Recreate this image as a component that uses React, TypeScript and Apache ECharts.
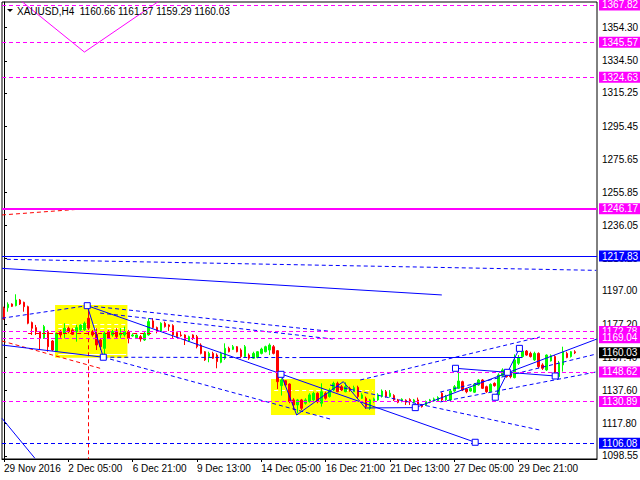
import React, { useEffect, useRef } from "react";
import * as echarts from "echarts";

const FONT = "'Liberation Sans', Arial, sans-serif";
const FS = 10;

const symbolName = "XAUUSD,H4";
const lastBarOHLC = [1160.66, 1161.57, 1159.29, 1160.03];

const slotCount = 148;
const xTickStep = 16;
const xTickLabels = [
  "29 Nov 2016", "2 Dec 05:00", "6 Dec 21:00", "9 Dec 13:00", "14 Dec 05:00",
  "16 Dec 21:00", "21 Dec 13:00", "27 Dec 05:00", "29 Dec 21:00",
];
const yTickValues = [
  1098.55, 1117.8, 1137.6, 1157.4, 1177.2, 1197.0, 1216.25, 1236.05, 1255.85,
  1275.65, 1295.45, 1315.25, 1334.5, 1354.3,
];
const yMin = 1096.61;
const yMax = 1369.61;

const opens = [
  1186.6, 1187.0, 1189.2, 1188.2, 1191.6, 1190.2, 1187.6, 1178.1, 1175.1, 1172.7,
  1168.7, 1172.7, 1167.1, 1161.1, 1172.7, 1171.7, 1174.7, 1173.7, 1172.7, 1173.7,
  1173.7, 1180.7, 1172.7, 1171.1, 1167.7, 1162.7, 1172.7, 1170.7, 1173.1, 1170.7,
  1170.7, 1172.7, 1170.1, 1169.1, 1169.7, 1167.7, 1170.7, 1179.1, 1175.1, 1173.1,
  1177.7, 1176.7, 1176.3, 1172.1, 1170.7, 1170.7, 1167.1, 1170.7, 1169.7, 1164.7,
  1160.7, 1157.8, 1159.7, 1158.7, 1154.4, 1156.8, 1162.7, 1162.1, 1163.7, 1161.7,
  1157.8, 1158.7, 1156.8, 1157.2, 1159.7, 1160.7, 1161.7, 1163.7, 1161.3, 1140.4,
  1143.4, 1141.4, 1131.9, 1128.9, 1131.9, 1129.9, 1130.9, 1131.9, 1135.9, 1129.9,
  1135.9, 1133.9, 1137.8, 1141.8, 1139.8, 1136.8, 1138.8, 1136.8, 1139.4, 1132.9,
  1132.9, 1126.9, 1130.9, 1131.9, 1133.9, 1136.8, 1133.9, 1134.5, 1131.9, 1130.9,
  1131.7, 1132.1, 1130.5, 1131.9, 1128.9, 1128.9, 1130.5, 1131.3, 1131.3, 1135.9,
  1131.9, 1131.9, 1137.2, 1138.8, 1142.8, 1138.4, 1137.2, 1136.5, 1140.8, 1143.8,
  1139.8, 1136.8, 1141.8, 1134.9, 1146.4, 1149.2, 1147.8, 1145.2, 1153.8, 1157.8,
  1161.1, 1159.7, 1155.8, 1159.7, 1152.8, 1149.8, 1155.2, 1157.8, 1145.8, 1152.8,
  1159.7, 1157.8, 1160.66,
];
const closes = [
  1180.7, 1189.0, 1187.8, 1191.6, 1189.2, 1187.6, 1177.7, 1174.7, 1172.7, 1168.7,
  1175.7, 1163.7, 1161.7, 1171.7, 1170.7, 1174.7, 1172.7, 1171.1, 1175.1, 1176.7,
  1177.7, 1174.7, 1170.7, 1164.7, 1163.7, 1171.7, 1168.7, 1172.7, 1169.7, 1171.7,
  1172.7, 1168.7, 1170.7, 1170.7, 1168.3, 1171.7, 1178.7, 1175.1, 1173.1, 1177.7,
  1175.7, 1175.7, 1170.7, 1169.7, 1170.3, 1167.7, 1169.7, 1168.7, 1163.7, 1159.7,
  1155.8, 1159.7, 1156.8, 1154.8, 1159.7, 1162.7, 1160.7, 1163.7, 1160.7, 1157.8,
  1163.7, 1156.8, 1159.7, 1160.7, 1162.3, 1163.7, 1164.7, 1159.7, 1142.8, 1143.8,
  1140.8, 1130.9, 1128.9, 1131.9, 1126.9, 1131.9, 1134.9, 1135.9, 1130.9, 1136.8,
  1132.9, 1137.8, 1141.8, 1136.8, 1137.8, 1139.8, 1137.8, 1139.2, 1133.9, 1134.9,
  1127.9, 1131.9, 1132.5, 1134.9, 1137.2, 1133.9, 1135.9, 1131.9, 1130.5, 1132.3,
  1130.5, 1130.9, 1131.9, 1128.9, 1127.9, 1130.9, 1131.9, 1132.5, 1133.3, 1131.9,
  1133.9, 1137.2, 1139.8, 1143.2, 1137.8, 1136.8, 1138.8, 1141.4, 1143.8, 1138.8,
  1136.8, 1141.2, 1140.4, 1146.8, 1149.8, 1145.8, 1145.8, 1155.8, 1157.2, 1161.1,
  1158.7, 1157.8, 1159.7, 1151.8, 1150.8, 1158.7, 1158.3, 1145.8, 1153.8, 1160.7,
  1157.2, 1160.7, 1160.03,
];
const lows = [
  1179.7, 1184.6, 1187.4, 1187.8, 1188.6, 1184.6, 1177.1, 1170.7, 1170.7, 1161.7,
  1168.3, 1160.7, 1161.1, 1160.7, 1169.1, 1168.7, 1171.7, 1170.7, 1166.7, 1173.1,
  1173.1, 1173.7, 1169.7, 1161.7, 1161.7, 1157.4, 1168.3, 1169.7, 1168.7, 1168.7,
  1169.7, 1165.7, 1169.7, 1168.7, 1166.7, 1167.1, 1170.3, 1174.7, 1171.7, 1172.7,
  1175.1, 1173.1, 1168.7, 1169.1, 1169.7, 1164.7, 1166.7, 1167.7, 1162.7, 1159.1,
  1155.2, 1154.4, 1156.4, 1150.8, 1153.8, 1155.8, 1160.3, 1161.7, 1160.3, 1156.8,
  1157.2, 1155.8, 1156.4, 1156.8, 1159.1, 1160.3, 1158.7, 1159.1, 1138.4, 1134.5,
  1140.4, 1129.9, 1125.9, 1123.9, 1125.9, 1129.1, 1130.3, 1131.3, 1129.9, 1127.9,
  1132.1, 1133.3, 1137.2, 1136.5, 1137.2, 1136.5, 1136.8, 1136.5, 1132.9, 1132.5,
  1126.5, 1125.9, 1130.3, 1131.3, 1133.3, 1133.3, 1133.3, 1131.3, 1129.9, 1130.5,
  1128.9, 1128.9, 1129.9, 1128.3, 1127.3, 1128.3, 1129.9, 1130.9, 1130.9, 1130.9,
  1131.3, 1130.9, 1136.8, 1138.4, 1137.2, 1135.9, 1136.8, 1136.1, 1140.4, 1138.4,
  1136.1, 1136.5, 1139.8, 1133.9, 1145.8, 1145.2, 1144.8, 1144.8, 1152.8, 1157.2,
  1158.3, 1157.2, 1155.2, 1150.8, 1149.8, 1149.2, 1154.8, 1145.2, 1144.4, 1148.8,
  1156.8, 1157.2, 1159.29,
];
const highs = [
  1187.6, 1190.2, 1189.6, 1195.0, 1192.2, 1190.6, 1188.2, 1178.7, 1176.7, 1173.1,
  1176.7, 1173.7, 1167.7, 1172.1, 1173.7, 1177.7, 1175.7, 1174.7, 1176.7, 1177.1,
  1178.7, 1188.2, 1173.7, 1174.7, 1168.7, 1172.7, 1173.7, 1173.7, 1174.7, 1174.7,
  1175.7, 1173.7, 1171.7, 1171.1, 1170.7, 1172.7, 1180.7, 1180.7, 1175.7, 1178.3,
  1178.7, 1177.1, 1177.1, 1172.7, 1172.7, 1171.1, 1170.3, 1171.1, 1170.7, 1165.7,
  1161.1, 1160.7, 1160.7, 1159.7, 1160.7, 1165.7, 1163.7, 1164.7, 1164.1, 1162.7,
  1164.7, 1159.7, 1160.7, 1161.1, 1163.1, 1164.3, 1165.7, 1164.7, 1161.7, 1144.8,
  1143.8, 1141.8, 1132.9, 1132.5, 1132.5, 1132.9, 1135.9, 1136.8, 1136.5, 1141.8,
  1136.8, 1138.8, 1142.8, 1142.8, 1140.8, 1142.4, 1139.8, 1140.4, 1140.4, 1135.9,
  1133.9, 1132.5, 1133.3, 1135.9, 1138.2, 1137.8, 1137.8, 1135.3, 1132.5, 1132.9,
  1132.3, 1132.9, 1132.5, 1133.3, 1129.5, 1131.5, 1132.5, 1133.3, 1134.1, 1136.5,
  1134.9, 1137.8, 1140.8, 1150.8, 1143.4, 1138.8, 1139.4, 1142.0, 1144.4, 1144.4,
  1140.4, 1141.8, 1142.4, 1147.8, 1150.8, 1150.2, 1149.2, 1159.1, 1158.7, 1162.7,
  1161.7, 1160.7, 1160.7, 1160.3, 1153.8, 1159.1, 1159.1, 1158.7, 1155.2, 1163.7,
  1160.7, 1161.1, 1161.57,
];

// horizontal levels
const magentaDashedLevels = [1367.82, 1345.57, 1324.63, 1172.78, 1169.04, 1148.62, 1130.89];
const magentaSolidLevel = 1246.17;
const blueSolidLevel = 1217.83;
const blueDashedLevel = 1106.08;

// drawing objects in (bar index, price)
const yellowBoxes = [
  [12.7, 1188.6, 30.7, 1157.1],
  [66.4, 1144.4, 92.3, 1122.9],
];
const magentaPath = [
  [3.0, 1372.7],
  [20.0, 1339.7],
  [40.0, 1372.5],
];
const blueSolidSegments = [
  [-0.5, 1210.5, 108.9, 1194.6],
  [20.7, 1188.2, 117.2, 1106.6],
  [-0.5, 1164.7, 24.7, 1157.4],
  [20.7, 1188.2, 24.7, 1157.4],
  [73.6, 1157.1, 128.9, 1157.1],
  [-0.5, 1120.9, 7.7, 1097.0],
  [102.3, 1127.3, 147.5, 1168.3],
  [112.3, 1150.8, 125.2, 1148.4],
  [122.2, 1133.5, 128.2, 1162.7],
  [125.2, 1148.4, 137.1, 1146.2],
  [68.9, 1147.2, 72.8, 1122.9],
  [72.8, 1122.9, 84.4, 1142.8],
  [84.4, 1142.8, 89.9, 1127.1],
  [89.9, 1127.1, 102.3, 1127.3],
];
const blueDashedSegments = [
  [0.7, 1215.9, 147.3, 1209.3],
  [-0.5, 1180.7, 20.7, 1188.2],
  [20.7, 1188.2, 81.8, 1172.7],
  [23.9, 1183.8, 81.8, 1168.3],
  [24.7, 1157.4, 73.6, 1157.2],
  [24.7, 1157.4, 81.1, 1120.5],
  [88.6, 1143.8, 133.3, 1169.5],
  [108.5, 1136.6, 147.3, 1159.3],
  [108.5, 1130.7, 147.3, 1148.6],
  [81.1, 1140.8, 133.3, 1113.9],
];
const redDashedSegments = [
  [-0.5, 1242.4, 19.7, 1246.0],
  [-0.5, 1167.1, 23.9, 1150.8],
  [6.0, 1171.7, 37.2, 1171.7],
  [20.9, 1172.9, 20.9, 1096.6],
];
const whiteDashedSegments = [
  [13.5, 1177.1, 30.4, 1177.1],
  [13.5, 1174.7, 30.4, 1174.7],
  [67.2, 1137.6, 91.8, 1137.6],
];
const whiteSolidSegments = [[13.5, 1159.3, 30.4, 1159.3]];
const pivotMarkers = [
  [20.7, 1188.2], [24.7, 1157.4], [68.9, 1147.2], [117.2, 1106.6], [102.3, 1127.3],
  [112.3, 1150.8], [122.2, 1133.5], [125.2, 1148.4], [128.2, 1162.7], [137.1, 1146.2],
];

const MAGENTA = "#FF00FF";
const BLUE = "#0000FF";
const RED = "#FF0000";
const GREEN = "#00FF00";
const DASH = [4, 3];

function segs(list: number[][]) {
  return list.map((s) => ({ coords: [[s[0], s[1]], [s[2], s[3]]] }));
}

function levelLabel(bg: string, text: string) {
  return {
    show: true,
    position: "end",
    distance: 2,
    formatter: text,
    color: "#fff",
    backgroundColor: bg,
    padding: [1, 3, 0, 3],
    lineHeight: 10,
    fontSize: FS,
    fontFamily: FONT,
  };
}

export default function App() {
  const ref = useRef<HTMLDivElement>(null);
  useEffect(() => {
    if (!ref.current) return;
    const chart = echarts.init(ref.current, undefined, { renderer: "svg" });
    const categories = Array.from({ length: slotCount }, (_, i) => String(i));
    const candleData = opens.map((o, i) => [o, closes[i], lows[i], highs[i]]);
    const tickInterval = (i: number) => i % xTickStep === 0 && i / xTickStep < xTickLabels.length;

    const levelData: any[] = [];
    const pushLevel = (v: number, color: string, type: any, width: number, bg: string) => {
      levelData.push({
        yAxis: v,
        lineStyle: { color, type, width },
        label: levelLabel(bg, v.toFixed(2)),
      });
    };
    magentaDashedLevels.slice(0, 3).forEach((v) => pushLevel(v, MAGENTA, DASH, 1, MAGENTA));
    pushLevel(magentaSolidLevel, MAGENTA, "solid", 2, MAGENTA);
    pushLevel(blueSolidLevel, BLUE, "solid", 1, BLUE);
    magentaDashedLevels.slice(3).forEach((v) => pushLevel(v, MAGENTA, DASH, 1, MAGENTA));
    pushLevel(blueDashedLevel, BLUE, DASH, 1, BLUE);
    levelData.push({
      yAxis: lastBarOHLC[3],
      lineStyle: { color: "rgba(0,0,0,0)", width: 1 },
      label: levelLabel("#000", lastBarOHLC[3].toFixed(2)),
    });

    const option: any = {
      animation: false,
      backgroundColor: "#fff",
      title: {
        text: symbolName + "  " + lastBarOHLC.map((v) => v.toFixed(2)).join(" "),
        left: 17,
        top: 6,
        padding: 0,
        textStyle: { fontSize: FS, fontWeight: "normal", color: "#000", fontFamily: FONT },
      },
      graphic: [
        { type: "polygon", shape: { points: [[7, 9], [13, 9], [10, 12]] }, style: { fill: "#000" } },
      ],
      grid: {
        left: 2, right: 43, top: 2, bottom: 21,
        show: true, borderColor: "#000", borderWidth: 1,
        containLabel: false, outerBoundsMode: "none",
      },
      xAxis: [
        {
          type: "category",
          data: categories,
          boundaryGap: true,
          axisLine: { show: true, lineStyle: { color: "#000" } },
          axisTick: { show: true, alignWithLabel: true, interval: tickInterval, length: 3, lineStyle: { color: "#000" } },
          axisLabel: {
            interval: tickInterval,
            formatter: (_v: string, i: number) => xTickLabels[i / xTickStep] ?? "",
            align: "left",
            color: "#000",
            fontSize: FS,
            fontFamily: FONT,
            margin: 4,
            hideOverlap: false,
          },
          splitLine: { show: false },
        },
        { type: "value", min: -0.5, max: slotCount - 0.5, show: false },
      ],
      yAxis: {
        type: "value",
        position: "right",
        min: yMin,
        max: yMax,
        axisLine: { show: true, lineStyle: { color: "#000" } },
        axisTick: { show: true, length: 3, customValues: yTickValues, lineStyle: { color: "#000" } },
        axisLabel: {
          customValues: yTickValues,
          formatter: (v: number) => v.toFixed(2),
          color: "#000",
          fontSize: FS,
          fontFamily: FONT,
          margin: 5,
        },
        splitLine: { show: false },
      },
      series: [
        {
          type: "line",
          xAxisIndex: 1,
          data: [[yellowBoxes[0][0], yellowBoxes[0][1]]],
          showSymbol: false,
          symbol: "none",
          lineStyle: { opacity: 0 },
          silent: true,
          z: 1,
          markArea: {
            silent: true,
            itemStyle: { color: "#FFFF00", opacity: 1 },
            data: yellowBoxes.map((b) => [{ coord: [b[0], b[1]] }, { coord: [b[2], b[3]] }]),
          },
        },
        {
          type: "lines",
          coordinateSystem: "cartesian2d",
          xAxisIndex: 1,
          z: 2,
          silent: true,
          data: segs(whiteDashedSegments),
          lineStyle: { color: "#fff", width: 1, type: DASH, opacity: 1 },
        },
        {
          type: "lines",
          coordinateSystem: "cartesian2d",
          xAxisIndex: 1,
          z: 2,
          silent: true,
          data: segs(whiteSolidSegments),
          lineStyle: { color: "#fff", width: 1, type: "solid", opacity: 1 },
        },
        {
          type: "candlestick",
          xAxisIndex: 0,
          data: candleData,
          barWidth: 2,
          z: 3,
          silent: true,
          itemStyle: {
            color: GREEN,
            color0: RED,
            borderColor: GREEN,
            borderColor0: RED,
            borderWidth: 1,
          },
          markLine: {
            silent: true,
            symbol: ["none", "none"],
            animation: false,
            data: levelData,
          },
        },
        {
          type: "lines",
          coordinateSystem: "cartesian2d",
          xAxisIndex: 1,
          z: 4,
          silent: true,
          data: segs(redDashedSegments),
          lineStyle: { color: RED, width: 1, type: DASH, opacity: 1 },
        },
        {
          type: "lines",
          coordinateSystem: "cartesian2d",
          xAxisIndex: 1,
          z: 4,
          silent: true,
          data: segs(blueDashedSegments),
          lineStyle: { color: BLUE, width: 1, type: DASH, opacity: 1 },
        },
        {
          type: "lines",
          coordinateSystem: "cartesian2d",
          xAxisIndex: 1,
          z: 4,
          silent: true,
          data: segs(blueSolidSegments),
          lineStyle: { color: BLUE, width: 1, type: "solid", opacity: 1 },
        },
        {
          type: "lines",
          coordinateSystem: "cartesian2d",
          xAxisIndex: 1,
          polyline: true,
          z: 4,
          silent: true,
          data: [{ coords: magentaPath }],
          lineStyle: { color: MAGENTA, width: 1, type: "solid", opacity: 1 },
        },
        {
          type: "scatter",
          xAxisIndex: 1,
          data: pivotMarkers,
          symbol: "rect",
          symbolSize: 6,
          silent: true,
          z: 5,
          itemStyle: { color: "#fff", borderColor: BLUE, borderWidth: 1, opacity: 1 },
        },
      ],
    };
    chart.setOption(option);
    return () => chart.dispose();
  }, []);
  return (
    <div
      ref={ref}
      style={{ position: "fixed", left: 0, top: 0, width: 640, height: 480, background: "#fff" }}
    />
  );
}
